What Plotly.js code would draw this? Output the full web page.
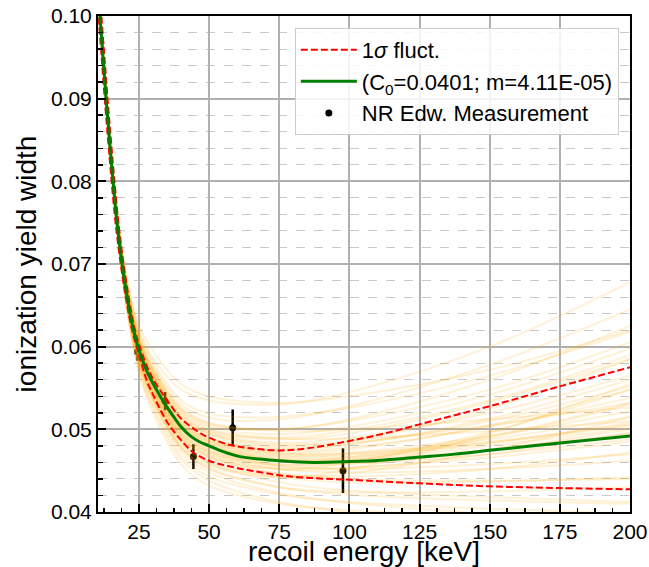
<!DOCTYPE html>
<html>
<head>
<meta charset="utf-8">
<script src="https://cdn.plot.ly/plotly-3.0.1.min.js"></script>
<style>html,body{margin:0;padding:0;background:#fff;}#chart{width:649px;height:567px;}</style>
</head>
<body>
<div id="chart"></div>
<script>
// Measurements (NR Edw.)
const measX = [24.5, 34.3, 44.4, 58.4, 97.7];
const measY = [0.0594, 0.0534, 0.0467, 0.0502, 0.0450];
const measErr = [0.0011, 0.0011, 0.0015, 0.0022, 0.0027];

// Best-fit curve (green)
const fitX = [10.4, 11.1, 12.2, 13.3, 14.4, 15.5, 17.1, 19.0, 21.3, 23.0, 25.0, 28.0, 31.4, 34.0, 37.4, 40.0, 43.3, 46.5, 50.0, 55.0, 61.0, 68.0, 75.0, 87.0, 100.0, 112.5, 125.0, 137.5, 150.0, 175.0, 200.0];
const fitY = [0.1035, 0.1000, 0.0950, 0.0900, 0.0854, 0.0810, 0.0752, 0.0700, 0.0650, 0.0621, 0.0596, 0.0569, 0.0547, 0.0532, 0.0515, 0.0503, 0.0492, 0.0485, 0.0480, 0.0473, 0.0467, 0.0464, 0.0462, 0.0460, 0.0461, 0.0463, 0.04665, 0.0470, 0.04746, 0.04835, 0.0492];

// 1 sigma band (red dashed)
const upX = [10.9, 11.6, 12.7, 13.8, 14.9, 16.0, 17.6, 19.5, 21.8, 23.5, 25.0, 28.0, 30.0, 33.8, 36.5, 40.0, 45.7, 50.0, 57.5, 65.0, 75.0, 85.0, 100.0, 112.5, 125.0, 137.5, 150.0, 175.0, 200.0];
const upY = [0.1035, 0.1000, 0.0950, 0.0900, 0.0854, 0.0810, 0.0752, 0.0700, 0.0650, 0.0621, 0.0603, 0.0575, 0.0561, 0.0541, 0.0528, 0.0513, 0.0498, 0.0490, 0.0481, 0.0477, 0.04745, 0.0477, 0.0486, 0.0495, 0.0506, 0.0517, 0.0528, 0.0552, 0.0575];
const loX = [10.4, 10.6, 11.7, 12.8, 13.9, 15.0, 16.6, 18.5, 20.8, 22.5, 25.0, 28.0, 30.0, 33.8, 36.2, 40.0, 44.4, 50.0, 57.5, 65.0, 75.0, 87.0, 100.0, 125.0, 150.0, 175.0, 200.0];
const loY = [0.1010, 0.1000, 0.0950, 0.0900, 0.0854, 0.0810, 0.0752, 0.0700, 0.0650, 0.0621, 0.0590, 0.0557, 0.0542, 0.0516, 0.0503, 0.0487, 0.0472, 0.0462, 0.0455, 0.0450, 0.04445, 0.0441, 0.0439, 0.04347, 0.0431, 0.0429, 0.04274];

// Fluctuation samples (faint orange)
const sampleX = [10.4, 12, 15, 20, 25, 30, 40, 50, 75, 100, 150, 200];
const sampleY = [
  [0.1036,0.0961,0.0835,0.0693,0.0622,0.0586,0.0548,0.0535,0.0530,0.0545,0.0600,0.0678],
  [0.1036,0.0960,0.0834,0.0689,0.0615,0.0578,0.0530,0.0514,0.0512,0.0528,0.0578,0.0645],
  [0.1036,0.0960,0.0833,0.0686,0.0610,0.0572,0.0523,0.0505,0.0500,0.0512,0.0560,0.0625],
  [0.1035,0.0960,0.0832,0.0683,0.0606,0.0567,0.0516,0.0497,0.0488,0.0495,0.0533,0.0585],
  [0.1035,0.0959,0.0831,0.0681,0.0602,0.0562,0.0510,0.0490,0.0478,0.0482,0.0510,0.0552],
  [0.1035,0.0959,0.0830,0.0679,0.0599,0.0558,0.0505,0.0485,0.0470,0.0472,0.0492,0.0522],
  [0.1035,0.0959,0.0830,0.0678,0.0597,0.0556,0.0502,0.0481,0.0465,0.0466,0.0483,0.0505],
  [0.1035,0.0959,0.0829,0.0676,0.0594,0.0552,0.0497,0.0475,0.0456,0.0452,0.0458,0.0470],
  [0.1035,0.0958,0.0829,0.0674,0.0590,0.0547,0.0491,0.0468,0.0447,0.0440,0.0438,0.0440],
  [0.1034,0.0958,0.0828,0.0671,0.0585,0.0541,0.0483,0.0459,0.0436,0.0426,0.0418,0.0412],
  [0.1034,0.0957,0.0826,0.0667,0.0578,0.0533,0.0473,0.0448,0.0423,0.0411,0.0398,0.0388],
  [0.1034,0.0957,0.0825,0.0663,0.0572,0.0525,0.0464,0.0438,0.0412,0.0400,0.0385,0.0372],
  [0.1036,0.0960,0.0833,0.0687,0.0612,0.0575,0.0526,0.0508,0.0498,0.0500,0.0512,0.0526],
  [0.1035,0.0960,0.0832,0.0684,0.0607,0.0569,0.0519,0.0500,0.0489,0.0489,0.0498,0.0510],
  [0.1035,0.0958,0.0829,0.0674,0.0590,0.0548,0.0493,0.0472,0.0457,0.0462,0.0490,0.0530],
  [0.1035,0.0958,0.0828,0.0672,0.0587,0.0544,0.0488,0.0466,0.0452,0.0460,0.0497,0.0548],
  [0.1034,0.0958,0.0827,0.0668,0.0580,0.0536,0.0478,0.0456,0.0442,0.0452,0.0495,0.0555],
  [0.1035,0.0960,0.0831,0.0682,0.0604,0.0565,0.0514,0.0494,0.0480,0.0486,0.0525,0.0585],
  [0.1036,0.0961,0.0834,0.0691,0.0618,0.0582,0.0535,0.0519,0.0515,0.0526,0.0565,0.0618],
  [0.1035,0.0959,0.0831,0.0680,0.0600,0.0560,0.0507,0.0487,0.0472,0.0476,0.0505,0.0548],
  [0.1035,0.0959,0.0830,0.0678,0.0597,0.0556,0.0502,0.0481,0.0464,0.0464,0.0480,0.0502],
  [0.1035,0.0959,0.0830,0.0677,0.0595,0.0553,0.0499,0.0478,0.0461,0.0459,0.0470,0.0488],
  [0.1035,0.0959,0.0829,0.0675,0.0592,0.0550,0.0495,0.0473,0.0455,0.0454,0.0466,0.0485],
  [0.1034,0.0958,0.0828,0.0671,0.0586,0.0542,0.0485,0.0462,0.0442,0.0436,0.0437,0.0442],
  [0.1034,0.0958,0.0827,0.0669,0.0582,0.0537,0.0478,0.0453,0.0430,0.0421,0.0414,0.0410],
  [0.1036,0.0960,0.0832,0.0685,0.0609,0.0571,0.0522,0.0503,0.0494,0.0503,0.0542,0.0598],
  [0.1035,0.0960,0.0831,0.0683,0.0605,0.0566,0.0515,0.0496,0.0484,0.0490,0.0520,0.0565],
  [0.1035,0.0959,0.0831,0.0680,0.0601,0.0561,0.0508,0.0488,0.0474,0.0478,0.0503,0.0538],
  [0.1035,0.0958,0.0828,0.0673,0.0589,0.0546,0.0490,0.0469,0.0452,0.0453,0.0470,0.0496],
  [0.1034,0.0958,0.0827,0.0670,0.0583,0.0539,0.0481,0.0459,0.0443,0.0447,0.0475,0.0515],
  [0.1036,0.0961,0.0836,0.0695,0.0626,0.0595,0.0555,0.0540,0.0532,0.0540,0.0572,0.0620],
  [0.1034,0.0957,0.0824,0.0660,0.0568,0.0520,0.0458,0.0432,0.0410,0.0402,0.0396,0.0392],
  [0.1035,0.0959,0.0830,0.0679,0.0598,0.0557,0.0504,0.0484,0.0468,0.0470,0.0488,0.0515],
  [0.1035,0.0959,0.0830,0.0678,0.0596,0.0555,0.0501,0.0480,0.0463,0.0463,0.0476,0.0495],
  [0.1035,0.0959,0.0831,0.0681,0.0601,0.0561,0.0509,0.0489,0.0476,0.0482,0.0513,0.0560],
  [0.1035,0.0959,0.0829,0.0676,0.0593,0.0551,0.0496,0.0475,0.0458,0.0458,0.0475,0.0500],
  [0.1035,0.0960,0.0832,0.0683,0.0604,0.0565,0.0513,0.0494,0.0482,0.0485,0.0505,0.0532],
  [0.1035,0.0958,0.0829,0.0675,0.0591,0.0549,0.0493,0.0471,0.0452,0.0448,0.0452,0.0462],
  [0.1035,0.0960,0.0832,0.0684,0.0606,0.0568,0.0518,0.0499,0.0490,0.0499,0.0535,0.0590],
  [0.1035,0.0958,0.0828,0.0673,0.0588,0.0545,0.0489,0.0466,0.0446,0.0443,0.0452,0.0472],
  [0.1035,0.0959,0.0831,0.0680,0.0600,0.0559,0.0506,0.0486,0.0471,0.0471,0.0485,0.0506],
  [0.1035,0.0959,0.0830,0.0677,0.0595,0.0554,0.0500,0.0479,0.0462,0.0466,0.0492,0.0532],
  [0.1034,0.0958,0.0827,0.0669,0.0581,0.0536,0.0477,0.0452,0.0430,0.0424,0.0425,0.0430],
  [0.1036,0.0960,0.0833,0.0686,0.0611,0.0573,0.0525,0.0507,0.0500,0.0510,0.0548,0.0605],
  [0.1035,0.0959,0.0830,0.0679,0.0598,0.0557,0.0503,0.0483,0.0467,0.0468,0.0484,0.0508],
  [0.1034,0.0957,0.0825,0.0664,0.0574,0.0528,0.0468,0.0443,0.0421,0.0412,0.0404,0.0398]
];

// Axis ticks
const xTickStart = 0, xTickStep = 25;
const yTickVals = [0.04, 0.05, 0.06, 0.07, 0.08, 0.09, 0.10];
const yTickText = ['0.04', '0.05', '0.06', '0.07', '0.08', '0.09', '0.10'];

const traces = [];
traces.push({
  x: measX, y: measY, type: 'scatter', mode: 'markers',
  name: 'NR Edw. Measurement', legendrank: 3,
  marker: {color: 'black', size: 7},
  error_y: {type: 'data', array: measErr, visible: true, color: 'black', thickness: 2.5, width: 0},
  hoverinfo: 'skip'
});
sampleY.forEach(function (ys) {
  traces.push({
    x: sampleX, y: ys, type: 'scatter', mode: 'lines', showlegend: false,
    line: {color: 'rgba(255,165,0,0.16)', width: 2, shape: 'spline', smoothing: 1},
    hoverinfo: 'skip'
  });
});
traces.push({
  x: upX, y: upY, type: 'scatter', mode: 'lines', name: '1<i>σ</i> fluct.', legendrank: 1,
  legendgroup: 'sig',
  line: {color: 'red', width: 2, dash: '7px,3px', shape: 'spline', smoothing: 1},
  hoverinfo: 'skip'
});
traces.push({
  x: loX, y: loY, type: 'scatter', mode: 'lines', showlegend: false, legendgroup: 'sig',
  line: {color: 'red', width: 2, dash: '7px,3px', shape: 'spline', smoothing: 1},
  hoverinfo: 'skip'
});
traces.push({
  x: fitX, y: fitY, type: 'scatter', mode: 'lines', name: '(C<sub>0</sub>=0.0401; m=4.11E-05)', legendrank: 2,
  line: {color: 'green', width: 3, shape: 'spline', smoothing: 1},
  hoverinfo: 'skip'
});

const layout = {
  width: 649, height: 567,
  margin: {l: 98, r: 19, t: 16, b: 55, pad: 0},
  paper_bgcolor: 'white', plot_bgcolor: 'white',
  font: {family: 'Liberation Sans, Arial, sans-serif', color: 'black', size: 21},
  showlegend: true,
  xaxis: {
    range: [10.4, 200], tick0: xTickStart, dtick: xTickStep,
    ticks: 'inside', ticklen: 8, tickwidth: 2, tickcolor: 'black',
    showline: true, linecolor: 'black', linewidth: 2, mirror: true,
    showgrid: true, gridcolor: '#b0b0b0', gridwidth: 2, zeroline: false,
    tickfont: {size: 21},
    title: {text: 'recoil energy [keV]', font: {size: 28}, standoff: 6},
    minor: {tick0: 0, dtick: 6.25, ticks: 'inside', ticklen: 4, tickwidth: 1.5, tickcolor: 'black', showgrid: false}
  },
  yaxis: {
    range: [0.04, 0.10], tickvals: yTickVals, ticktext: yTickText,
    ticks: 'inside', ticklen: 8, tickwidth: 2, tickcolor: 'black',
    showline: true, linecolor: 'black', linewidth: 2, mirror: true,
    showgrid: true, gridcolor: '#b0b0b0', gridwidth: 2, zeroline: false,
    tickfont: {size: 21},
    title: {text: 'ionization yield width', font: {size: 28}, standoff: 6},
    minor: {tick0: 0, dtick: 0.002, ticks: 'inside', ticklen: 5, tickwidth: 1.5, tickcolor: 'black',
            showgrid: true, gridcolor: '#c8c8c8', gridwidth: 1, griddash: 'dash'}
  },
  legend: {
    x: 0.979, xanchor: 'right', y: 0.976, yanchor: 'top',
    bgcolor: 'rgba(255,255,255,0.85)', bordercolor: '#cccccc', borderwidth: 1,
    font: {size: 22}, itemwidth: 56, traceorder: 'normal'
  }
};

Plotly.newPlot('chart', traces, layout, {displayModeBar: false, staticPlot: true});
</script>
</body>
</html>
